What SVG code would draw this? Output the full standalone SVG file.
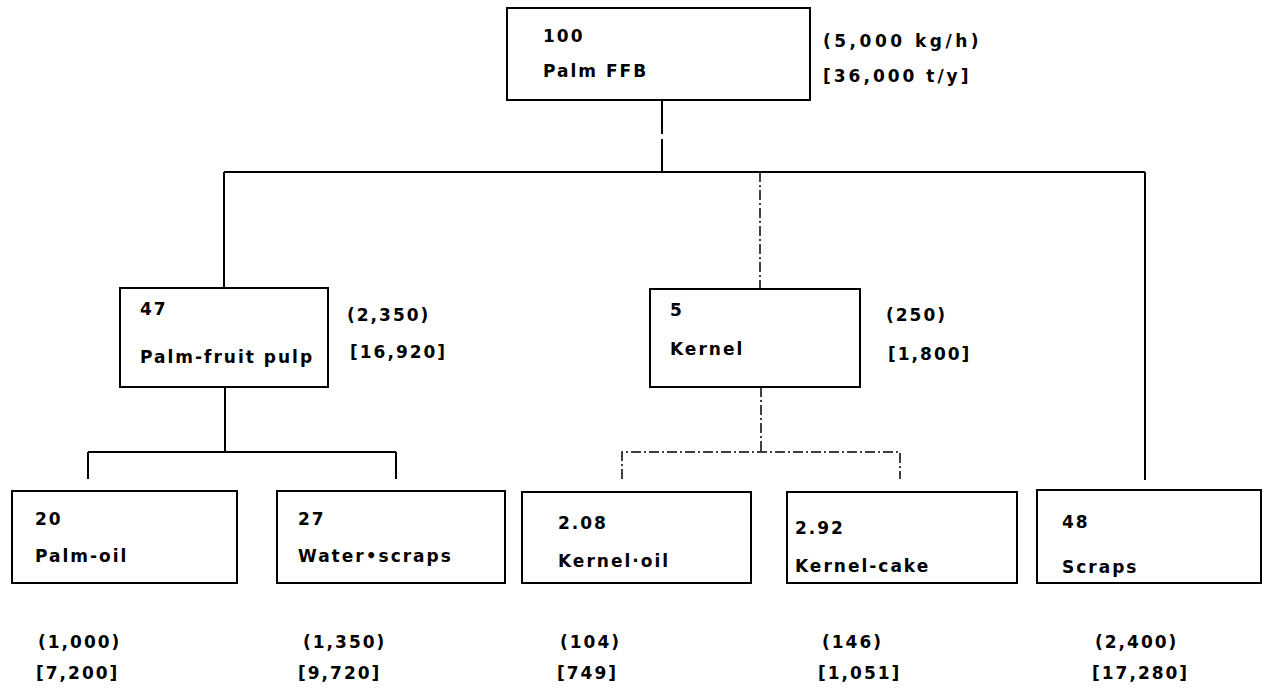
<svg xmlns="http://www.w3.org/2000/svg" width="1262" height="700" viewBox="0 0 1262 700">
<style>
.box{fill:#fff;stroke:#000;stroke-width:2}
.ln{stroke:#000;stroke-width:2;fill:none}
.dl{stroke:#000;stroke-width:1.5;fill:none;stroke-dasharray:10 3 2 3}
text{font-family:"DejaVu Sans","Liberation Sans",sans-serif;font-weight:bold;font-size:17px;letter-spacing:2px;fill:#000}
</style>
<rect width="1262" height="700" fill="#fff"/>
<g id="connectors">
<path class="ln" d="M662 100V134M662 139V172"/>
<path class="ln" d="M224 172H1145M224 172V288M1145 172V480"/>
<path class="dl" d="M760 172V289"/>
<path class="ln" d="M225 387V452M88 452H396M88 452V479M396 452V479"/>
<path class="dl" d="M761 387V452M622 479V452H900V479"/>
</g>
<g id="n-ffb"><rect class="box" x="507" y="8" width="303" height="92"/><text x="543" y="42">100</text><text x="543" y="77">Palm FFB</text><text x="823" y="47" style="letter-spacing:3.5px">(5,000 kg/h)</text><text x="823" y="82" style="letter-spacing:3px">[36,000 t/y]</text></g>
<g id="n-pulp"><rect class="box" x="120" y="288" width="208" height="99"/><text x="140" y="315">47</text><text x="140" y="363">Palm-fruit pulp</text><text x="347" y="321">(2,350)</text><text x="350" y="358">[16,920]</text></g>
<g id="n-kernel"><rect class="box" x="650" y="289" width="210" height="98"/><text x="670" y="316">5</text><text x="670" y="355">Kernel</text><text x="886" y="321">(250)</text><text x="888" y="360">[1,800]</text></g>
<g id="n-palmoil"><rect class="box" x="12" y="491" width="225" height="92"/><text x="35" y="525">20</text><text x="35" y="562">Palm-oil</text><text x="38" y="648">(1,000)</text><text x="36" y="679">[7,200]</text></g>
<g id="n-water"><rect class="box" x="277" y="491" width="228" height="92"/><text x="298" y="525">27</text><text x="298" y="562">Water•scraps</text><text x="303" y="648">(1,350)</text><text x="298" y="679">[9,720]</text></g>
<g id="n-kerneloil"><rect class="box" x="522" y="492" width="229" height="91"/><text x="558" y="529">2.08</text><text x="558" y="567">Kernel·oil</text><text x="560" y="648">(104)</text><text x="557" y="679">[749]</text></g>
<g id="n-kernelcake"><rect class="box" x="787" y="492" width="230" height="91"/><text x="795" y="534">2.92</text><text x="795" y="572">Kernel-cake</text><text x="822" y="648">(146)</text><text x="818" y="679">[1,051]</text></g>
<g id="n-scraps"><rect class="box" x="1037" y="490" width="224" height="93"/><text x="1062" y="528">48</text><text x="1062" y="573">Scraps</text><text x="1095" y="648">(2,400)</text><text x="1092" y="679">[17,280]</text></g>
</svg>
